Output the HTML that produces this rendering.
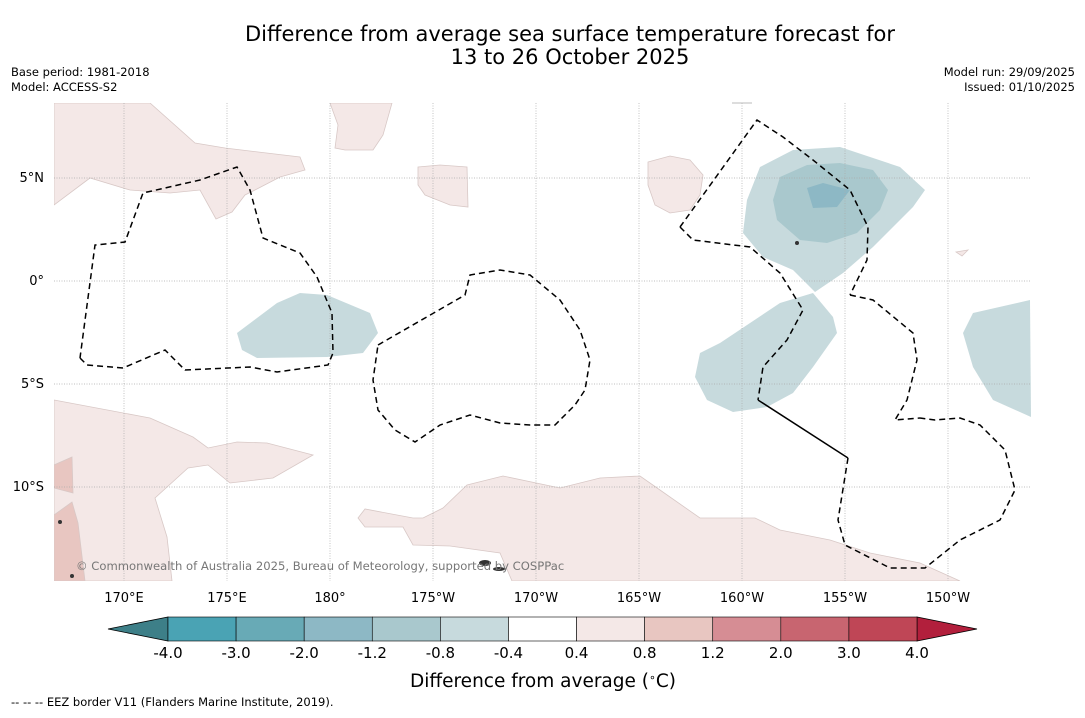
<!DOCTYPE html>
<html><head><meta charset="utf-8"><style>
body{margin:0;background:#fff;font-family:"Liberation Sans","DejaVu Sans",sans-serif}
svg text{font-family:"DejaVu Sans","Liberation Sans",sans-serif}
</style></head><body>
<svg id="chart" width="1085" height="713" viewBox="0 0 1085 713">
<rect width="1085" height="713" fill="#fff"/>
<text x="570" y="41" font-size="21" text-anchor="middle">Difference from average sea surface temperature forecast for</text>
<text x="570" y="64" font-size="21" text-anchor="middle">13 to 26 October 2025</text>
<text x="11" y="76" font-size="11.5">Base period: 1981-2018</text>
<text x="11" y="91" font-size="11.5">Model: ACCESS-S2</text>
<text x="1075" y="76" font-size="11.5" text-anchor="end">Model run: 29/09/2025</text>
<text x="1075" y="91" font-size="11.5" text-anchor="end">Issued: 01/10/2025</text>
<g id="map">
<clipPath id="mc"><rect x="54" y="103" width="977" height="478"/></clipPath>
<g clip-path="url(#mc)" stroke="#d8c8c6" stroke-width="0.8">
<polygon fill="#f4e8e7" points="54,103 150,103 195,143 225,148 300,157 305,170 280,177 255,190 245,195 232,212 216,219 200,190 170,193 130,190 90,178 54,205"/>
<polygon fill="#f4e8e7" points="330,103 392,103 383,135 373,150 345,150 335,148 338,125"/>
<polygon fill="#f4e8e7" points="418,167 440,165 467,167 468,207 450,205 425,195 418,185"/>
<polygon fill="#f4e8e7" points="648,162 670,156 690,160 703,175 700,195 690,210 670,213 655,205 648,185"/>
<polygon fill="#f4e8e7" points="956,252 968,250 962,256"/>
<polygon fill="#f4e8e7" points="54,400 150,418 193,437 208,448 237,442 267,443 313,455 273,478 230,483 208,465 188,468 155,498 167,537 172,581 54,581"/>
<polygon fill="#e8c6c1" points="54,465 72,457 73,493 54,488"/>
<polygon fill="#e8c6c1" points="54,515 72,502 78,523 85,581 54,581"/>
<polygon fill="#f4e8e7" points="365,527 358,518 365,509 413,518 423,518 443,508 467,485 503,476 560,488 600,478 640,476 660,490 700,518 755,518 780,530 830,540 870,553 920,563 960,581 512,581 500,553 450,546 413,545 403,527"/>
<g stroke="none">
<polygon fill="#c7dadd" points="747,200 760,167 793,150 840,147 900,167 925,190 913,207 873,247 843,273 815,292 793,270 763,257 743,233"/>
<polygon fill="#a9c8cd" points="773,200 780,177 807,165 840,163 873,170 888,190 880,210 857,233 827,243 800,240 777,220"/>
<polygon fill="#8db8c5" points="807,188 823,183 850,190 837,207 813,208"/>
<polygon fill="#c7dadd" points="700,353 720,343 780,303 813,293 833,317 837,333 813,367 793,393 767,407 733,412 707,400 695,377"/>
<polygon fill="#c7dadd" points="973,313 1030,300 1031,417 993,400 973,367 963,333"/>
<polygon fill="#c7dadd" points="237,333 277,303 300,293 327,295 370,313 378,333 363,353 327,357 257,358 242,350"/>
</g></g>
<g id="grid" stroke="#aaa" stroke-width="0.7" stroke-dasharray="1,1.5"></g>
<g fill="none" stroke="#000" stroke-width="1.5" stroke-dasharray="6,4">
<polyline points="80,358 87,365 123,368 165,350 185,370 250,367 277,372 328,365 333,353 332,313 317,277 300,253 263,238 250,190 237,167 200,180 143,193 125,242 95,245 80,358"/>
<polyline points="378,345 465,295 470,275 500,270 530,275 560,300 580,330 590,360 585,390 575,405 555,425 530,425 500,423 470,415 440,425 415,442 395,430 378,410 373,380 378,345"/>
<polyline points="680,227 757,120 783,137 813,160 850,190 868,227 867,260 850,295"/>
<polyline points="680,227 693,240 750,247 780,273 803,310 787,340 763,367 758,400"/>
<polyline points="848,458 838,520 845,545 890,568 925,568 960,540 1000,520 1015,490 1005,450 980,425 960,418 935,420 920,418"/>
<polyline points="850,295 873,300 913,333 917,360 907,400 895,420 920,418"/>
</g>
<polyline points="758,400 848,458" fill="none" stroke="#000" stroke-width="1.5"/>
<g fill="#333">
<ellipse cx="485" cy="563" rx="6" ry="3"/><ellipse cx="499" cy="569" rx="6" ry="2"/>
<circle cx="60" cy="522" r="2"/><circle cx="72" cy="576" r="2"/><circle cx="797" cy="243" r="2"/>
</g>
<line x1="732" y1="103" x2="752" y2="103" stroke="#bbb"/>
<text x="76" y="570" font-size="11.6" fill="#777">© Commonwealth of Australia 2025, Bureau of Meteorology, supported by COSPPac</text>
</g>
<g id="xt"></g><g id="yt"></g>
<g id="cb"></g>
<text x="543" y="687" font-size="18.5" text-anchor="middle">Difference from average (<tspan baseline-shift="super" font-size="11">∘</tspan>C)</text>
<text x="11" y="706" font-size="11.5">--  --  -- EEZ border V11 (Flanders Marine Institute, 2019).</text>
</svg>
<script>
const lonLabels=["170°E","175°E","180°","175°W","170°W","165°W","160°W","155°W","150°W"];
const lonValues=[170,175,180,185,190,195,200,205,210];
const latLabels=["5°N","0°","5°S","10°S"];
const latValues=[5,0,-5,-10];
const cbLevels=[-4.0,-3.0,-2.0,-1.2,-0.8,-0.4,0.4,0.8,1.2,2.0,3.0,4.0];
const cbColors=["#4aa3b4","#68aab6","#8db8c5","#a9c8cd","#c7dadd","#ffffff","#f4e8e7","#e8c6c1","#d68d94","#c86570","#bf4656"];
const cbUnder="#3d7f88", cbOver="#b21f3c";
const NS="http://www.w3.org/2000/svg";
const X=lon=>124+(lon-170)*20.6;
const Y=lat=>281-lat*20.6;
function mk(t,a,p){const e=document.createElementNS(NS,t);for(const k in a)e.setAttribute(k,a[k]);p.appendChild(e);return e;}
const grid=document.getElementById('grid'),xt=document.getElementById('xt'),yt=document.getElementById('yt'),cb=document.getElementById('cb');
lonValues.forEach((v,i)=>{
 const l=mk('line',{x1:X(v),x2:X(v),y1:103,y2:581},grid);
 
 
 const t=mk('text',{x:X(v),y:602,'font-size':13,'text-anchor':'middle'},xt);t.textContent=lonLabels[i];
 
 
});
latValues.forEach((v,i)=>{
 const l=mk('line',{x1:54,x2:1031,y1:Y(v),y2:Y(v)},grid);
 
 
 const t=mk('text',{x:44,y:Y(v)+4,'font-size':13,'text-anchor':'end'},yt);t.textContent=latLabels[i];
 
 
});
const cbX0=168,cbW=749/cbColors.length,cbY=617,cbH=24;
const under=mk('polygon',{points:`${cbX0},${cbY} ${cbX0},${cbY+cbH} 108,${cbY+cbH/2}`,fill:cbUnder,stroke:'#000','stroke-width':0.8},cb);


const over=mk('polygon',{points:`${cbX0+749},${cbY} ${cbX0+749},${cbY+cbH} 977,${cbY+cbH/2}`,fill:cbOver,stroke:'#000','stroke-width':0.8},cb);


cbColors.forEach((c,i)=>{
 const r=mk('rect',{x:cbX0+i*cbW,y:cbY,width:cbW,height:cbH,fill:c,stroke:'#000','stroke-width':0.6},cb);
 
 
});
cbLevels.forEach((v,i)=>{
 const t=mk('text',{x:cbX0+i*cbW,y:658,'font-size':15,'text-anchor':'middle'},cb);t.textContent=v.toFixed(1);
 
 
});
</script>
</body></html>
